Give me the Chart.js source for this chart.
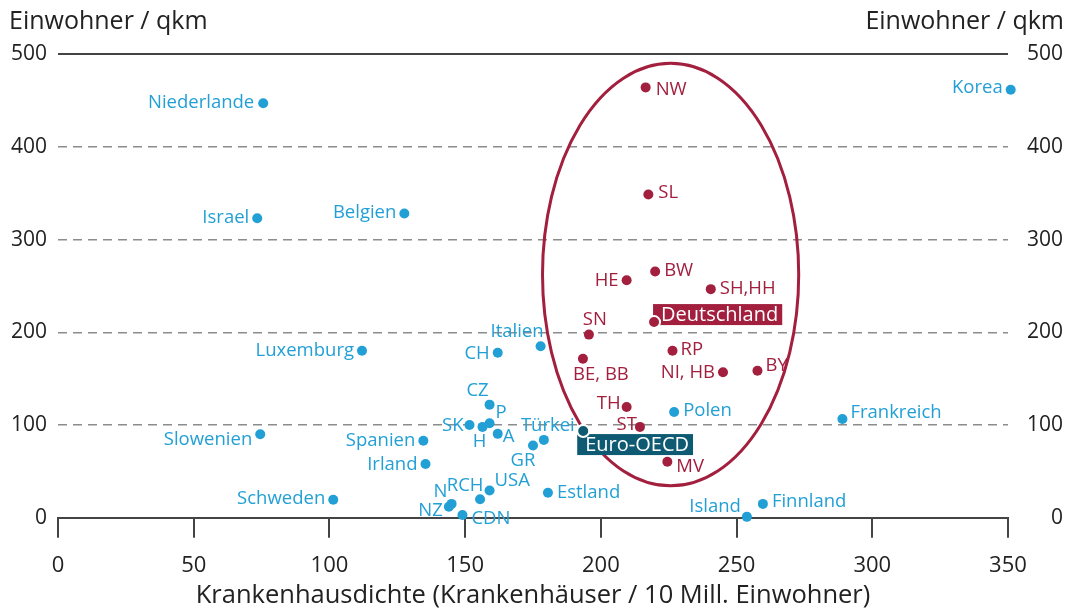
<!DOCTYPE html>
<html>
<head>
<meta charset="utf-8">
<script src="https://cdn.jsdelivr.net/npm/chart.js@4"></script>
<style>
  body { margin: 0; background: #fff; }
  #wrap { width: 1068px; height: 608px; }
</style>
</head>
<body>
<div id="wrap"><canvas id="chart" width="1068" height="608"></canvas></div>
<script>
// OECD countries: hospital density (per 10 mill. inhabitants) vs. inhabitants per sq km
const countryNames = ['Niederlande', 'Israel', 'Belgien', 'Luxemburg', 'Slowenien', 'Spanien', 'Irland', 'Schweden',
  'CH', 'Italien', 'CZ', 'P', 'SK', 'H', 'A', 'Türkei', 'GR', 'USA', 'RCH', 'N', 'NZ', 'CDN',
  'Estland', 'Polen', 'Frankreich', 'Island', 'Finnland', 'Korea'];
const countryHospitals = [75.6, 73.4, 127.6, 112, 74.5, 134.6, 135.4, 101.4,
  162, 177.8, 159, 159, 151.6, 156.4, 162, 179, 175, 159, 155.5, 145, 144, 149,
  180.5, 227, 289, 253.8, 259.7, 351];
const countryDensity = [447, 323, 328, 180, 90, 83, 58, 19.5,
  178, 185, 122, 102, 100, 98, 90.5, 84, 78, 29.5, 20, 15, 12, 3,
  27, 114, 106.5, 1, 15, 461.5];

// German federal states
const stateNames = ['NW', 'SL', 'HE', 'BW', 'SH,HH', 'SN', 'BE, BB', 'RP', 'NI, HB', 'BY', 'TH', 'ST', 'MV'];
const stateHospitals = [216.5, 217.5, 209.5, 220, 240.5, 195.6, 193.4, 226.4, 245, 257.7, 209.5, 214.4, 224.5];
const stateDensity = [464, 348.5, 256, 265.5, 246.5, 197.5, 171.5, 180, 157, 158.5, 119.5, 98, 60.5];

// averages
const avgNames = ['Deutschland', 'Euro-OECD'];
const avgHospitals = [219.6, 193.5];
const avgDensity = [211, 93.5];

const xTicks = [0, 50, 100, 150, 200, 250, 300, 350];
const yTicks = [0, 100, 200, 300, 400, 500];
const yTitle = 'Einwohner / qkm';
const xTitle = 'Krankenhausdichte (Krankenhäuser / 10 Mill. Einwohner)';

// highlight ellipse around the German states (data units)
const ellipseCenter = [225.7, 262.2];
const ellipseRadius = [47.2, 227.7];

const BLUE = '#22a0d6';
const RED = '#a21f3d';
const TEAL = '#0e5a72';
const FONT = '"Open Sans", "Noto Sans", sans-serif';

// label placement: [textAlign, dx, dy] relative to the dot
const labelPlace = {
  'Niederlande': ['right', -9, 0], 'Israel': ['right', -8, 0], 'Belgien': ['right', -8, -1],
  'Luxemburg': ['right', -8, 0], 'Slowenien': ['right', -8, 5], 'Spanien': ['right', -8, 0],
  'Irland': ['right', -8, 1], 'Schweden': ['right', -8, -1], 'CH': ['right', -8, 1],
  'Italien': ['right', 3, -14], 'CZ': ['center', -12, -14], 'P': ['left', 6, -10],
  'SK': ['right', -6, 1], 'H': ['center', -3, 15], 'A': ['left', 5, 3],
  'Türkei': ['center', 4, -14], 'GR': ['center', -10, 15], 'USA': ['left', 5, -10],
  'RCH': ['center', -15, -14], 'N': ['center', -11, -12], 'NZ': ['right', -6, 4],
  'CDN': ['left', 9, 4], 'Estland': ['left', 9, 0], 'Polen': ['left', 9, -1],
  'Frankreich': ['left', 8, -6], 'Island': ['right', -6, -10], 'Finnland': ['left', 9, -2],
  'Korea': ['right', -8, -2],
  'NW': ['left', 10, 2], 'SL': ['left', 10, -2], 'HE': ['right', -8, 0], 'BW': ['left', 9, -1],
  'SH,HH': ['left', 9, 0], 'SN': ['center', 6, -15], 'BE, BB': ['center', 18, 16],
  'RP': ['left', 8, -1], 'NI, HB': ['right', -8, 1], 'BY': ['left', 8, -5],
  'TH': ['right', -6, -3], 'ST': ['right', -3, -2], 'MV': ['left', 9, 5]
};

function points(xs, ys) {
  return xs.map((x, i) => ({ x: x, y: ys[i] }));
}

const ellipsePlugin = {
  id: 'ellipse',
  beforeDatasetsDraw(chart) {
    const { ctx, scales } = chart;
    const cx = scales.x.getPixelForValue(ellipseCenter[0]);
    const cy = scales.y.getPixelForValue(ellipseCenter[1]);
    const rx = scales.x.getPixelForValue(ellipseCenter[0] + ellipseRadius[0]) - cx;
    const ry = cy - scales.y.getPixelForValue(ellipseCenter[1] + ellipseRadius[1]);
    ctx.save();
    ctx.beginPath();
    ctx.ellipse(cx, cy, rx, ry, 0, 0, Math.PI * 2);
    ctx.strokeStyle = RED;
    ctx.lineWidth = 3;
    ctx.stroke();
    ctx.restore();
  }
};

const labelPlugin = {
  id: 'pointLabels',
  afterDatasetsDraw(chart) {
    const ctx = chart.ctx;
    ctx.save();
    ctx.textBaseline = 'middle';
    chart.data.datasets.forEach((ds, di) => {
      if (!ds.names) return;
      const meta = chart.getDatasetMeta(di);
      meta.data.forEach((pt, i) => {
        const name = ds.names[i];
        if (ds.boxed) {
          // boxed label for the averages
          ctx.font = '20px ' + FONT;
          const w = ctx.measureText(name).width;
          let bx, by;
          if (name === 'Deutschland') { bx = pt.x - 1; by = pt.y - 18; }
          else { bx = pt.x - 6; by = pt.y + 3; }
          ctx.fillStyle = ds.boxColor[i];
          ctx.fillRect(bx, by, w + 12, 21);
          ctx.fillStyle = '#fff';
          ctx.textAlign = 'left';
          ctx.fillText(name, bx + 8, by + 11);
          // redraw dot on top of the box
          ctx.beginPath();
          ctx.arc(pt.x, pt.y, 6, 0, Math.PI * 2);
          ctx.fillStyle = ds.boxColor[i];
          ctx.fill();
          ctx.lineWidth = 2;
          ctx.strokeStyle = '#fff';
          ctx.stroke();
          return;
        }
        const p = labelPlace[name] || ['left', 8, 0];
        ctx.font = '18.5px ' + FONT;
        ctx.textAlign = p[0];
        ctx.fillStyle = ds.labelColor;
        ctx.fillText(name, pt.x + p[1], pt.y + p[2]);
      });
    });
    ctx.restore();
  }
};

const titlesPlugin = {
  id: 'axisTitles',
  afterDraw(chart) {
    const ctx = chart.ctx;
    const area = chart.chartArea;
    ctx.save();
    ctx.font = '25px ' + FONT;
    ctx.fillStyle = '#222';
    ctx.textBaseline = 'middle';
    ctx.textAlign = 'left';
    ctx.fillText(yTitle, 9, 22);
    ctx.textAlign = 'right';
    ctx.fillText(yTitle, 1064, 22);
    ctx.font = '25.5px ' + FONT;
    ctx.textAlign = 'center';
    ctx.fillText(xTitle, (area.left + area.right) / 2, 596);
    ctx.restore();
  }
};

function gridDash(c) {
  const v = c.tick ? c.tick.value : 0;
  return (v === 0 || v === 500) ? [] : [9, 6];
}

const yTickOpts = {
  stepSize: 100,
  font: { family: FONT, size: 21 },
  color: '#222'
};

document.fonts.load('18px "Open Sans"').then(function() {
  const ctx = document.getElementById('chart').getContext('2d');
  new Chart(ctx, {
    type: 'scatter',
    data: {
      datasets: [
        {
          data: points(countryHospitals, countryDensity),
          names: countryNames,
          labelColor: BLUE,
          backgroundColor: BLUE,
          borderWidth: 0,
          pointRadius: 5
        },
        {
          data: points(stateHospitals, stateDensity),
          names: stateNames,
          labelColor: RED,
          backgroundColor: RED,
          borderWidth: 0,
          pointRadius: 5
        },
        {
          data: points(avgHospitals, avgDensity),
          names: avgNames,
          boxed: true,
          boxColor: [RED, TEAL],
          backgroundColor: [RED, TEAL],
          borderColor: '#fff',
          borderWidth: 2,
          pointRadius: 6
        }
      ]
    },
    options: {
      responsive: false,
      animation: false,
      clip: false,
      layout: { padding: { top: 54, left: 0, right: 5, bottom: 14 } },
      plugins: {
        legend: { display: false },
        tooltip: { enabled: false }
      },
      scales: {
        x: {
          type: 'linear',
          min: xTicks[0],
          max: xTicks[xTicks.length - 1],
          afterBuildTicks: function(axis) { axis.ticks = xTicks.map(v => ({ value: v })); },
          ticks: { font: { family: FONT, size: 22, lineHeight: 1.1 }, color: '#222', padding: 16 },
          grid: { drawOnChartArea: false, color: '#444', lineWidth: 2, tickLength: 20 },
          border: { color: '#444', width: 2 }
        },
        y: {
          position: 'left',
          min: yTicks[0],
          max: yTicks[yTicks.length - 1],
          afterBuildTicks: function(axis) { axis.ticks = yTicks.map(v => ({ value: v })); },
          ticks: Object.assign({ padding: 11 }, yTickOpts),
          grid: {
            drawTicks: false,
            color: c => (c.tick.value === 500 || c.tick.value === 0) ? '#444' : '#8c8c8c',
            lineWidth: c => (c.tick.value === 500 || c.tick.value === 0) ? 2 : 1.5
          },
          border: { display: false, dash: gridDash }
        },
        y2: {
          position: 'right',
          min: yTicks[0],
          max: yTicks[yTicks.length - 1],
          afterBuildTicks: function(axis) { axis.ticks = yTicks.map(v => ({ value: v })); },
          ticks: Object.assign({ padding: 9.5, crossAlign: 'far' }, yTickOpts),
          grid: { drawOnChartArea: false, drawTicks: false },
          border: { display: false }
        }
      }
    },
    plugins: [ellipsePlugin, labelPlugin, titlesPlugin]
  });
});
</script>
</body>
</html>
